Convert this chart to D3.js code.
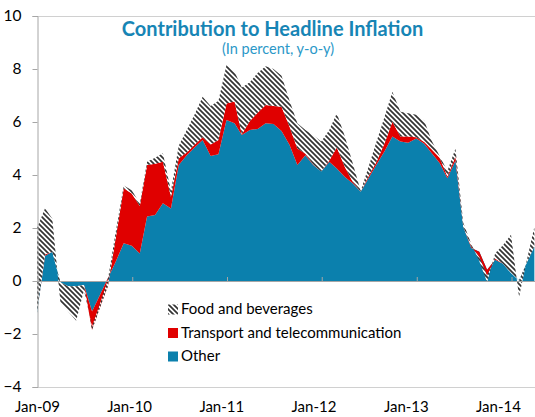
<!DOCTYPE html>
<html><head><meta charset="utf-8">
<script src="https://cdn.jsdelivr.net/npm/d3@7"></script>
<style>html,body{margin:0;padding:0;background:#fff;} svg{display:block;font-family:Lato,"Open Sans",sans-serif;}</style>
</head><body><svg id="c" width="535" height="417"></svg>
<script>
const months = ["2009-01","2009-02","2009-03","2009-04","2009-05","2009-06","2009-07","2009-08","2009-09","2009-10","2009-11","2009-12",
"2010-01","2010-02","2010-03","2010-04","2010-05","2010-06","2010-07","2010-08","2010-09","2010-10","2010-11","2010-12",
"2011-01","2011-02","2011-03","2011-04","2011-05","2011-06","2011-07","2011-08","2011-09","2011-10","2011-11","2011-12",
"2012-01","2012-02","2012-03","2012-04","2012-05","2012-06","2012-07","2012-08","2012-09","2012-10","2012-11","2012-12",
"2013-01","2013-02","2013-03","2013-04","2013-05","2013-06","2013-07","2013-08","2013-09","2013-10","2013-11","2013-12",
"2014-01","2014-02","2014-03","2014-04"];
const other = [-1.2,0.95,1.1,-0.05,-0.2,-0.2,-0.15,-1.15,-0.52,0.1,0.75,1.42,
1.33,1.04,2.43,2.49,2.93,2.74,4.38,4.75,5.05,5.32,4.72,4.78,
6.08,5.95,5.51,5.7,5.74,5.95,5.92,5.66,5.13,4.38,4.75,4.38,
4.13,4.5,4.25,3.92,3.69,3.37,3.88,4.4,4.9,5.45,5.26,5.22,
5.38,5.18,4.83,4.45,3.88,4.55,2.05,1.25,1.1,0.42,0.8,0.65,
0.3,0.02,0.65,1.3];
const transport = [0,0.05,0,0,0,0,0,-0.7,-0.47,-0.3,0.92,2.08,
1.97,1.79,1.95,1.93,1.57,0.44,0.25,0.1,0.1,0.1,0.43,0.54,
0.62,0.82,0.03,0.34,0.61,0.69,0.68,0.92,0.69,0.62,0.05,0.02,
0,0.05,0.79,0.38,0.06,0,0.07,0.1,0.3,0.56,0.19,0.23,
0.04,0.07,0.14,0.2,0.06,0.15,0,0.05,-0.2,-0.22,0.05,0,
0,0,0,0];
const food = [3.2,1.75,1.25,-0.75,-0.95,-1.3,-0.2,0.13,0.14,0.25,0.23,0.1,
0.12,0.09,0.12,0.23,0.32,0.22,0.47,0.85,1.15,1.53,1.45,1.48,
1.45,1.13,1.76,1.46,1.5,1.46,1.4,1.17,0.98,0.95,0.9,1.1,
1.13,1.15,1.29,1.15,0.7,0.03,0.35,0.76,1.0,1.13,0.94,0.88,
0.85,0.8,0.33,0.07,0.21,0.3,0.15,0.1,-0.15,-0.25,0.2,0.7,
1.45,-0.62,0.05,0.75];
const yTicks = [-4,-2,0,2,4,6,8,10];
const xTickMonths = ["2009-01","2010-01","2011-01","2012-01","2013-01","2014-01"];
const xTickLabels = ["Jan-09","Jan-10","Jan-11","Jan-12","Jan-13","Jan-14"];
const legendNames = ["Food and beverages","Transport and telecommunication","Other"];
const title = "Contribution to Headline Inflation";
const subtitle = "(In percent, y-o-y)";

const BLUE = "#0b80ad", RED = "#e00000", AXIS = "#a6a6a6";
const W = 535, H = 417;
const parse = d3.timeParse("%Y-%m");
const dates = months.map(parse);
const tickDates = xTickMonths.map(parse);

const x = d3.scaleTime().domain([parse("2009-01"), parse("2014-01")]).range([37, 511]);
const xl = d3.scaleTime().domain([parse("2009-01"), parse("2014-01")]).range([37, 498]);
const y = d3.scaleLinear().domain([-4, 10]).range([387, 16]);

const table = dates.map((d, i) => ({date: d, other: other[i], transport: transport[i], food: food[i]}));
const series = d3.stack().keys(["other", "transport", "food"])
  .order(d3.stackOrderNone).offset(d3.stackOffsetNone)(table);

const svg = d3.select("#c");
const defs = svg.append("defs");
const pat = defs.append("pattern").attr("id", "hatch").attr("patternUnits", "userSpaceOnUse")
  .attr("width", 5).attr("height", 5);
pat.append("rect").attr("width", 5).attr("height", 5).attr("fill", "#fff");
pat.append("path").attr("d", "M-1,-1L6,6M4,-1L6,1M-1,4L1,6")
  .attr("stroke", "#333").attr("stroke-width", 1.7);
defs.append("clipPath").attr("id", "clip").append("rect")
  .attr("x", x.range()[0]).attr("y", y(10)).attr("width", W).attr("height", y(-4) - y(10));

const area = d3.area().x(d => x(d.data.date)).y0(d => y(d[0])).y1(d => y(d[1]));
const fills = {other: BLUE, transport: RED, food: "url(#hatch)"};
svg.append("g").attr("clip-path", "url(#clip)")
  .selectAll("path").data(series).join("path")
  .attr("d", area).attr("fill", d => fills[d.key]);

// frame
svg.append("line").attr("x1", 37).attr("x2", W).attr("y1", y(10) + 0.5).attr("y2", y(10) + 0.5)
  .attr("stroke", "#d0d0d0");
svg.append("line").attr("x1", 37).attr("x2", W).attr("y1", y(-4) + 0.5).attr("y2", y(-4) + 0.5)
  .attr("stroke", "#d0d0d0");

// y axis
const ya = svg.append("g").attr("transform", "translate(37.5,0)")
  .call(d3.axisLeft(y).tickValues(yTicks).tickSize(5).tickPadding(11).tickFormat(d3.format("d")));
ya.select(".domain").attr("stroke", AXIS);
ya.selectAll(".tick line").attr("stroke", AXIS);
ya.selectAll("text").attr("font-size", 15.5).attr("fill", "#000").attr("font-family", "Lato");

// zero line with ticks
svg.append("line").attr("x1", 37).attr("x2", W).attr("y1", y(0) + 0.5).attr("y2", y(0) + 0.5)
  .attr("stroke", AXIS).attr("stroke-width", 1.2);
const xa = svg.append("g").attr("transform", `translate(0.5,${y(0)})`)
  .call(d3.axisTop(x).tickValues(tickDates).tickSize(4).tickFormat(""));
xa.select(".domain").remove();
xa.selectAll(".tick line").attr("stroke", AXIS);

// x labels
const xb = svg.append("g").attr("transform", "translate(0,398.5)")
  .call(d3.axisBottom(xl).tickValues(tickDates).tickSize(0).tickPadding(3).tickFormat((d, i) => xTickLabels[i]));
xb.select(".domain").remove();
xb.selectAll("text").attr("font-size", 15).attr("fill", "#000").attr("font-family", "Lato");

// title
svg.append("text").attr("x", 272.5).attr("y", 35.5).attr("text-anchor", "middle")
  .attr("font-size", 20).attr("font-weight", "bold").attr("fill", "#1785b5").text(title);
svg.append("text").attr("x", 278).attr("y", 53.5).attr("text-anchor", "middle")
  .attr("font-size", 14.5).attr("fill", "#2b98c8").text(subtitle);

// legend
const legFills = ["url(#hatch)", RED, BLUE];
const leg = svg.append("g").selectAll("g").data(legendNames).join("g")
  .attr("transform", (d, i) => `translate(168,${314 + i * 23.5})`);
leg.append("rect").attr("x", 0).attr("y", -9.5).attr("width", 10).attr("height", 10)
  .attr("fill", (d, i) => legFills[i]);
leg.append("text").attr("x", 13).attr("y", 0).attr("font-size", 15).attr("fill", "#000").text(d => d);
</script></body></html>
